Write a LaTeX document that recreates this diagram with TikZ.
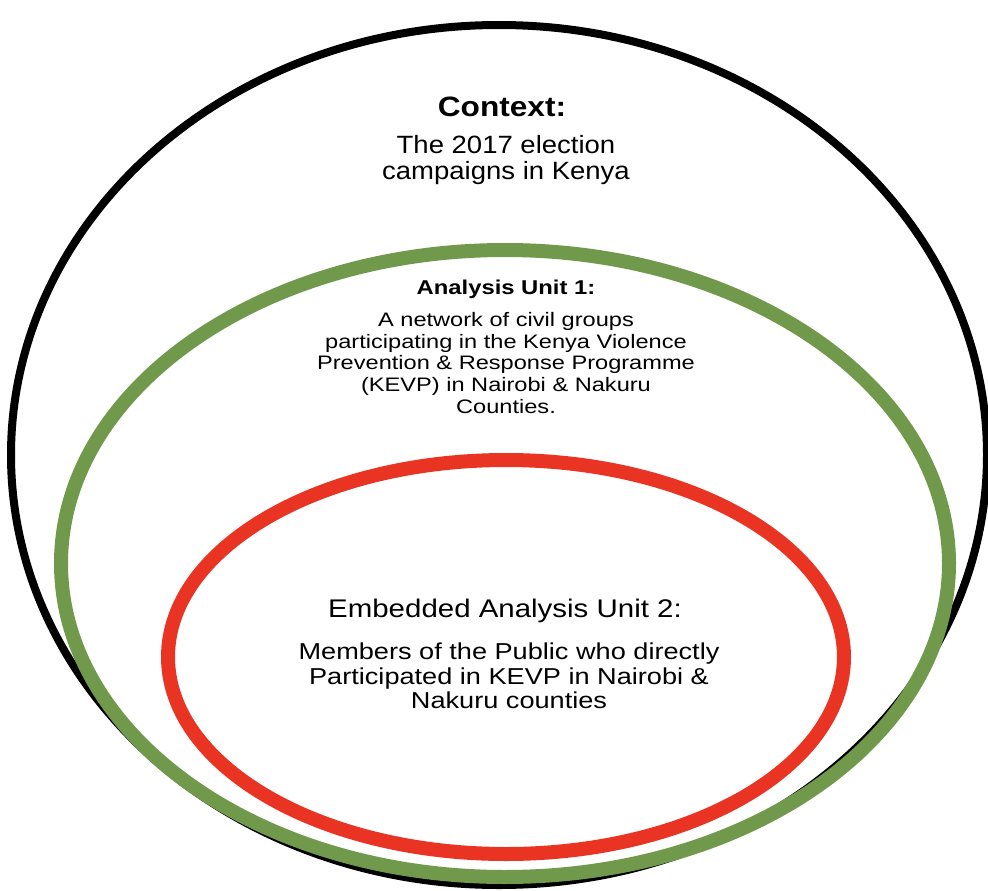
\documentclass[tikz,border=0pt]{standalone}
\usepackage{fontspec}
\setmainfont{Liberation Sans}
\definecolor{ctxgreen}{RGB}{112,153,76}
\definecolor{ctxred}{RGB}{233,52,36}
\tikzset{
  txt/.style={align=center, inner sep=0pt, text=black, transform shape},
}
\begin{document}
\begin{tikzpicture}[x=1pt,y=-1pt]
\useasboundingbox (0,0) rectangle (988,891);
\fill[white] (0,0) rectangle (988,891);
\clip (0,0) rectangle (988,891);
\draw[line width=8pt, black] (499,455) ellipse [x radius=488, y radius=430];
\draw[line width=14pt, ctxgreen] (505,563.5) ellipse [x radius=444, y radius=313.5];
\draw[line width=14pt, ctxred] (506,657) ellipse [x radius=338, y radius=197];
\node[txt, xscale=1.13, font=\bfseries\fontsize{28}{32}\selectfont] (ctx) at (502,107) {Context:};
\node[txt, xscale=1.1, font=\fontsize{25}{25.5}\selectfont] (ctxbody) at (506,160) {The 2017 election\\campaigns in Kenya};
\node[txt, xscale=1.19, font=\bfseries\fontsize{20}{23}\selectfont] (u1) at (506,289) {Analysis Unit 1:};
\node[txt, xscale=1.21, font=\fontsize{19.5}{21.7}\selectfont] (u1body) at (506,363) {A network of civil groups\\participating in the Kenya Violence\\Prevention \& Response Programme\\(KEVP) in Nairobi \& Nakuru\\Counties.};
\node[txt, xscale=1.155, font=\fontsize{25.5}{29}\selectfont] (u2) at (505,611) {Embedded Analysis Unit 2:};
\node[txt, xscale=1.18, font=\fontsize{23}{24.5}\selectfont] (u2body) at (509,676) {Members of the Public who directly\\Participated in KEVP in Nairobi \&\\Nakuru counties};
\end{tikzpicture}
\end{document}
